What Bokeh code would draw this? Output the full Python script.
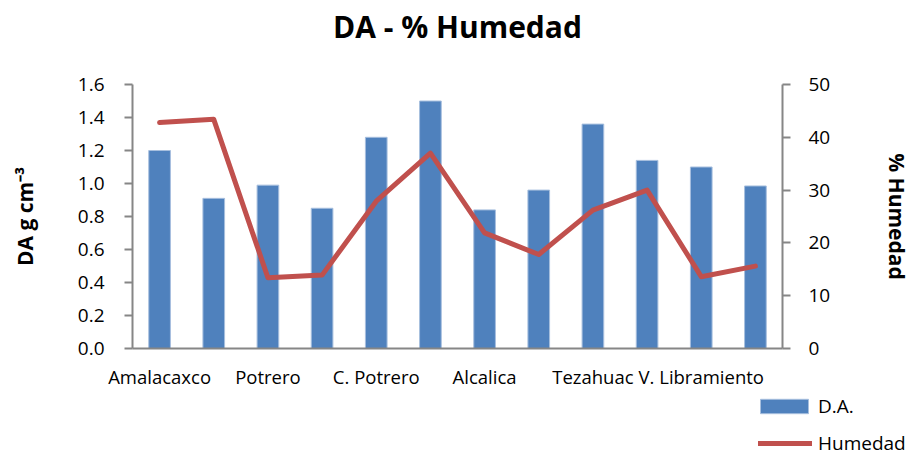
from bokeh.plotting import figure
from bokeh.layouts import column, row
from bokeh.models import (Range1d, LinearAxis, FixedTicker, SingleIntervalTicker,
                          NumeralTickFormatter, Legend, LegendItem, ColumnDataSource)
from bokeh.embed import file_html
from bokeh.resources import INLINE

# ---- data ----
sites = ["Amalacaxco", "", "Potrero", "", "C. Potrero", "", "Alcalica", "",
         "Tezahuac", "", "V. Libramiento", ""]
pos = [1, 2, 3, 4, 5, 6, 7, 8, 9, 10, 11, 12]
da = [1.20, 0.91, 0.99, 0.85, 1.28, 1.50, 0.84, 0.96, 1.36, 1.14, 1.10, 0.985]
humedad = [42.8, 43.4, 13.4, 13.9, 27.9, 37.0, 21.9, 17.8, 26.2, 30.0, 13.6, 15.6]

FONT = "Open Sans"
AX = "#868686"
BAR = "#4F81BD"
BAR_EDGE = "#A7BFDE"
LINE = "#C0504D"

src = ColumnDataSource(dict(x=pos, da=da, hum=humedad))

p = figure(width=914, height=392, output_backend="svg", toolbar_location=None,
           x_range=Range1d(0.5, 12.5), y_range=Range1d(0, 1.6),
           min_border_left=132, min_border_right=127, min_border_top=84,
           min_border_bottom=44, title="DA - % Humedad\n ")
p.extra_y_ranges = {"hum": Range1d(0, 50)}
p.outline_line_color = None
p.xgrid.visible = False
p.ygrid.visible = False

p.title.text_font = FONT
p.title.text_font_size = "30px"
p.title.text_font_style = "bold"
p.title.text_color = "black"
p.title.align = "center"
p.title.text_line_height = 0.9
p.title.standoff = 2

# x axis
xa = p.xaxis[0]
xa.ticker = FixedTicker(ticks=pos[::2])
xa.major_label_overrides = {pos[i]: sites[i] for i in range(0, 12, 2)}
xa.major_tick_line_color = None
xa.minor_tick_line_color = None
xa.axis_line_color = AX
xa.axis_line_width = 2
xa.major_label_text_font = FONT
xa.major_label_text_font_size = "18.5px"
xa.major_label_text_color = "black"
xa.major_label_standoff = 9

def style_y(ax):
    ax.major_tick_out = 8
    ax.major_tick_in = 0
    ax.minor_tick_line_color = None
    ax.major_tick_line_color = AX
    ax.major_tick_line_width = 2
    ax.axis_line_color = AX
    ax.axis_line_width = 2
    ax.major_label_text_font = FONT
    ax.major_label_text_font_size = "19px"
    ax.major_label_text_color = "black"
    ax.axis_label_text_font = FONT
    ax.axis_label_text_font_size = "21px"
    ax.axis_label_text_font_style = "bold"
    ax.axis_label_text_color = "black"

ya = p.yaxis[0]
ya.ticker = SingleIntervalTicker(interval=0.2, num_minor_ticks=0)
ya.formatter = NumeralTickFormatter(format="0.0")
style_y(ya)
ya.major_label_standoff = 20
ya.axis_label = "DA g cm\u207b\u00b3"
ya.axis_label_standoff = 36

yr = LinearAxis(y_range_name="hum", ticker=SingleIntervalTicker(interval=10, num_minor_ticks=0))
style_y(yr)
yr.major_label_standoff = 18
yr.axis_label = "% Humedad"
yr.axis_label_standoff = 50
p.add_layout(yr, "right")

p.vbar(x="x", top="da", width=0.4, source=src, fill_color=BAR,
       line_color=BAR_EDGE, line_width=1)
p.line(x="x", y="hum", source=src, y_range_name="hum", line_color=LINE,
       line_width=5, line_cap="round", line_join="round")

# ---- legend strip below the chart ----
# same series drawn with the same styles, but outside this strip's visible x range,
# so only the legend entries show
q = figure(width=914, height=64, output_backend="svg", toolbar_location=None,
           x_range=Range1d(-2, -1), y_range=Range1d(0, 1),
           x_axis_type=None, y_axis_type=None,
           min_border_left=0, min_border_right=0, min_border_top=0, min_border_bottom=0)
q.outline_line_color = None
q.xgrid.visible = False
q.ygrid.visible = False
leg_bar = q.vbar(x="x", top="da", width=0.4, source=src, fill_color=BAR,
                 line_color=BAR_EDGE, line_width=1)
leg_line = q.line(x="x", y="hum", source=src, line_color=LINE, line_width=5,
                  line_cap="round", line_join="round")

def make_legend(item, loc, gw, gh, standoff):
    lg = Legend(items=[item], location=loc, orientation="vertical",
                glyph_width=gw, glyph_height=gh, label_standoff=standoff,
                padding=0, margin=0, spacing=0, label_height=18,
                border_line_color=None, background_fill_alpha=0,
                label_text_font=FONT, label_text_font_size="19px",
                label_text_color="black")
    q.add_layout(lg)
    return lg

make_legend(LegendItem(label="D.A.", renderers=[leg_bar]), (754, 37), 60, 18, 4)
make_legend(LegendItem(label="Humedad", renderers=[leg_line]), (758, 0), 54, 18, 6)

layout = column(p, row(q), spacing=0)
open("out.html", "w").write(file_html(layout, INLINE))
